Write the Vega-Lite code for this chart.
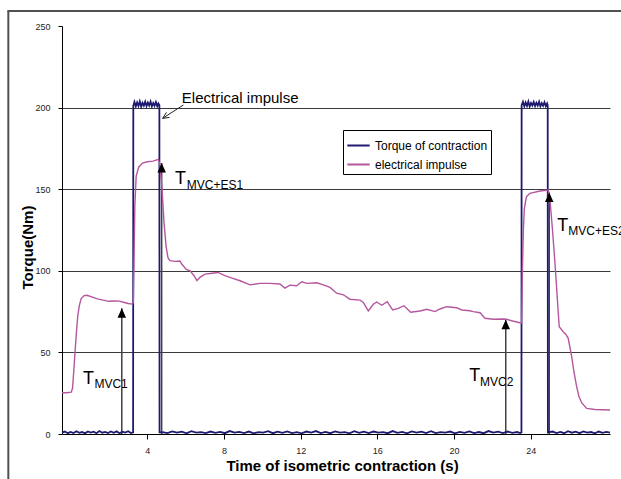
{
  "$schema": "https://vega.github.io/schema/vega-lite/v6.json",
  "width": 548,
  "height": 408,
  "autosize": {"type": "none"},
  "padding": {"left": 62, "top": 26, "right": 11, "bottom": 45},
  "background": "white",
  "config": {
    "view": {"stroke": null},
    "font": "Liberation Sans",
    "axis": {"labelFont": "Liberation Sans", "titleFont": "Liberation Sans"}
  },
  "datasets": {
    "torque": [
      {"t": -0.45, "v": 0.8}, {"t": -0.3, "v": 1.5}, {"t": -0.15, "v": 0.5}, {"t": 0, "v": 1.3}, {"t": 0.15, "v": 0.6}, {"t": 0.3, "v": 1.7}, {"t": 0.45, "v": 0.7}, {"t": 0.6, "v": 1.2}, {"t": 0.75, "v": 0.4}, {"t": 0.9, "v": 1.6}, {"t": 1.05, "v": 0.9}, {"t": 1.2, "v": 1.4}, {"t": 1.35, "v": 0.5}, {"t": 1.5, "v": 1.8}, {"t": 1.65, "v": 0.8}, {"t": 1.8, "v": 1.3}, {"t": 1.95, "v": 0.6}, {"t": 2.1, "v": 1.5}, {"t": 2.25, "v": 0.7}, {"t": 2.4, "v": 1.6}, {"t": 2.55, "v": 0.5}, {"t": 2.7, "v": 1.4}, {"t": 2.85, "v": 0.9}, {"t": 3.0, "v": 1.7}, {"t": 3.15, "v": 0.6}, {"t": 3.26, "v": 1.0},
      {"t": 3.27, "v": 201}, {"t": 3.33, "v": 203.5}, {"t": 3.4, "v": 200.8}, {"t": 3.47, "v": 203.2}, {"t": 3.54, "v": 201.0}, {"t": 3.61, "v": 203.8}, {"t": 3.68, "v": 200.6}, {"t": 3.75, "v": 202.9}, {"t": 3.82, "v": 201.2}, {"t": 3.89, "v": 203.6}, {"t": 3.96, "v": 200.9}, {"t": 4.03, "v": 203.1}, {"t": 4.1, "v": 201.3}, {"t": 4.17, "v": 203.7}, {"t": 4.24, "v": 200.7}, {"t": 4.31, "v": 202.8}, {"t": 4.38, "v": 201.1}, {"t": 4.45, "v": 203.4}, {"t": 4.52, "v": 200.9}, {"t": 4.58, "v": 202.5}, {"t": 4.63, "v": 201.5},
      {"t": 4.64, "v": 1.0}, {"t": 4.8, "v": 1.2}, {"t": 5.05, "v": 0.5}, {"t": 5.3, "v": 1.6}, {"t": 5.55, "v": 0.8}, {"t": 5.8, "v": 1.4}, {"t": 6.05, "v": 0.4}, {"t": 6.3, "v": 1.7}, {"t": 6.55, "v": 0.9}, {"t": 6.8, "v": 1.1}, {"t": 7.05, "v": 0.6}, {"t": 7.3, "v": 1.5}, {"t": 7.55, "v": 0.7}, {"t": 7.8, "v": 1.3}, {"t": 8.05, "v": 0.5}, {"t": 8.3, "v": 1.8}, {"t": 8.55, "v": 0.9}, {"t": 8.8, "v": 1.3}, {"t": 9.05, "v": 0.6}, {"t": 9.3, "v": 1.5}, {"t": 9.55, "v": 0.4}, {"t": 9.8, "v": 1.2}, {"t": 10.05, "v": 0.8}, {"t": 10.3, "v": 1.7}, {"t": 10.55, "v": 0.5}, {"t": 10.8, "v": 1.4}, {"t": 11.05, "v": 0.7}, {"t": 11.3, "v": 1.6}, {"t": 11.55, "v": 0.6}, {"t": 11.8, "v": 1.1}, {"t": 12.05, "v": 0.4}, {"t": 12.3, "v": 1.5}, {"t": 12.55, "v": 0.9}, {"t": 12.8, "v": 1.8}, {"t": 13.05, "v": 0.6}, {"t": 13.3, "v": 1.3}, {"t": 13.55, "v": 0.5}, {"t": 13.8, "v": 1.6}, {"t": 14.05, "v": 0.8}, {"t": 14.3, "v": 1.2}, {"t": 14.55, "v": 0.4}, {"t": 14.8, "v": 1.7}, {"t": 15.05, "v": 0.7}, {"t": 15.3, "v": 1.4}, {"t": 15.55, "v": 0.6}, {"t": 15.8, "v": 1.5}, {"t": 16.05, "v": 0.9}, {"t": 16.3, "v": 1.2}, {"t": 16.55, "v": 0.5}, {"t": 16.8, "v": 1.8}, {"t": 17.05, "v": 0.7}, {"t": 17.3, "v": 1.3}, {"t": 17.55, "v": 0.4}, {"t": 17.8, "v": 1.6}, {"t": 18.05, "v": 0.8}, {"t": 18.3, "v": 1.4}, {"t": 18.55, "v": 0.6}, {"t": 18.8, "v": 1.7}, {"t": 19.05, "v": 0.5}, {"t": 19.3, "v": 1.1}, {"t": 19.55, "v": 0.9}, {"t": 19.8, "v": 1.5}, {"t": 20.05, "v": 0.4}, {"t": 20.3, "v": 1.3}, {"t": 20.55, "v": 0.7}, {"t": 20.8, "v": 1.6}, {"t": 21.05, "v": 0.6}, {"t": 21.3, "v": 1.2}, {"t": 21.55, "v": 0.5}, {"t": 21.8, "v": 1.8}, {"t": 22.05, "v": 0.8}, {"t": 22.3, "v": 1.4}, {"t": 22.55, "v": 0.6}, {"t": 22.8, "v": 1.5}, {"t": 23.05, "v": 0.7}, {"t": 23.3, "v": 1.2}, {"t": 23.45, "v": 0.6}, {"t": 23.52, "v": 1.0},
      {"t": 23.53, "v": 201.5}, {"t": 23.6, "v": 203.6}, {"t": 23.67, "v": 200.8}, {"t": 23.74, "v": 203.2}, {"t": 23.81, "v": 201.0}, {"t": 23.88, "v": 203.7}, {"t": 23.95, "v": 200.7}, {"t": 24.02, "v": 202.9}, {"t": 24.09, "v": 201.3}, {"t": 24.16, "v": 203.5}, {"t": 24.23, "v": 200.9}, {"t": 24.3, "v": 203.0}, {"t": 24.37, "v": 201.2}, {"t": 24.44, "v": 203.6}, {"t": 24.51, "v": 200.8}, {"t": 24.58, "v": 202.7}, {"t": 24.65, "v": 201.1}, {"t": 24.72, "v": 203.3}, {"t": 24.79, "v": 200.9}, {"t": 24.86, "v": 202.6}, {"t": 24.89, "v": 201.5},
      {"t": 24.9, "v": 1.0}, {"t": 25.15, "v": 1.5}, {"t": 25.35, "v": 0.6}, {"t": 25.55, "v": 1.3}, {"t": 25.75, "v": 0.5}, {"t": 25.95, "v": 1.7}, {"t": 26.15, "v": 0.8}, {"t": 26.35, "v": 1.4}, {"t": 26.55, "v": 0.5}, {"t": 26.75, "v": 1.6}, {"t": 26.95, "v": 0.9}, {"t": 27.15, "v": 1.2}, {"t": 27.35, "v": 0.4}, {"t": 27.55, "v": 1.5}, {"t": 27.75, "v": 0.7}, {"t": 27.95, "v": 1.3}, {"t": 28.14, "v": 0.9}
    ],
    "impulse": [
      {"t": -0.45, "v": 25.3}, {"t": -0.2, "v": 25.3}, {"t": 0.03, "v": 25.6}, {"t": 0.1, "v": 28}, {"t": 0.16, "v": 38}, {"t": 0.23, "v": 50}, {"t": 0.3, "v": 62}, {"t": 0.37, "v": 72}, {"t": 0.45, "v": 78.5}, {"t": 0.55, "v": 83}, {"t": 0.7, "v": 84.8}, {"t": 0.85, "v": 85}, {"t": 1.1, "v": 84}, {"t": 1.4, "v": 82.8}, {"t": 1.7, "v": 82}, {"t": 2.0, "v": 81.3}, {"t": 2.3, "v": 81.5}, {"t": 2.55, "v": 81.4}, {"t": 2.8, "v": 80.6}, {"t": 3.0, "v": 80}, {"t": 3.2, "v": 79.6}, {"t": 3.27, "v": 80.5},
      {"t": 3.3, "v": 100}, {"t": 3.35, "v": 140}, {"t": 3.42, "v": 158}, {"t": 3.55, "v": 163.5}, {"t": 3.75, "v": 166}, {"t": 4.0, "v": 166.8}, {"t": 4.3, "v": 167.2}, {"t": 4.5, "v": 168}, {"t": 4.58, "v": 168.3},
      {"t": 4.66, "v": 165}, {"t": 4.77, "v": 150}, {"t": 4.87, "v": 130}, {"t": 4.98, "v": 115}, {"t": 5.08, "v": 108}, {"t": 5.18, "v": 106.2}, {"t": 5.45, "v": 105.8}, {"t": 5.7, "v": 106}, {"t": 5.81, "v": 104}, {"t": 6.02, "v": 101}, {"t": 6.23, "v": 100}, {"t": 6.44, "v": 97}, {"t": 6.59, "v": 94}, {"t": 6.75, "v": 96}, {"t": 7.01, "v": 98}, {"t": 7.38, "v": 98.5}, {"t": 7.69, "v": 99}, {"t": 8.05, "v": 97}, {"t": 8.42, "v": 95.5}, {"t": 8.84, "v": 93.9},
      {"t": 9.36, "v": 91.4}, {"t": 9.88, "v": 92.3}, {"t": 10.4, "v": 92.3}, {"t": 10.92, "v": 91.9}, {"t": 11.18, "v": 89.4}, {"t": 11.44, "v": 91.2}, {"t": 11.79, "v": 90.8}, {"t": 12.06, "v": 93.3}, {"t": 12.32, "v": 92.3}, {"t": 12.84, "v": 92.7}, {"t": 13.18, "v": 91.4}, {"t": 13.53, "v": 89.8}, {"t": 13.88, "v": 86.3}, {"t": 14.23, "v": 85.3}, {"t": 14.57, "v": 82.6}, {"t": 15.1, "v": 82}, {"t": 15.27, "v": 80.6}, {"t": 15.53, "v": 75.4}, {"t": 15.79, "v": 79.5}, {"t": 15.97, "v": 80.9}, {"t": 16.23, "v": 78.9}, {"t": 16.52, "v": 81.1}, {"t": 16.8, "v": 76}, {"t": 17.09, "v": 77}, {"t": 17.39, "v": 78.6}, {"t": 17.74, "v": 74.6}, {"t": 18.23, "v": 75.4}, {"t": 18.58, "v": 76.4}, {"t": 19.01, "v": 75}, {"t": 19.27, "v": 76.6}, {"t": 19.62, "v": 78}, {"t": 20.14, "v": 77.4}, {"t": 20.4, "v": 76}, {"t": 20.83, "v": 75.5}, {"t": 21.01, "v": 75}, {"t": 21.36, "v": 74.3}, {"t": 21.62, "v": 70.9}, {"t": 22.05, "v": 70.3}, {"t": 22.57, "v": 70.5}, {"t": 22.75, "v": 70.3}, {"t": 23.01, "v": 69.4}, {"t": 23.44, "v": 68.2}, {"t": 23.53, "v": 68},
      {"t": 23.57, "v": 100}, {"t": 23.62, "v": 125}, {"t": 23.67, "v": 138}, {"t": 23.78, "v": 145.4}, {"t": 23.96, "v": 147.5}, {"t": 24.49, "v": 148.9}, {"t": 24.92, "v": 149.5},
      {"t": 25.01, "v": 143.4}, {"t": 25.14, "v": 125}, {"t": 25.27, "v": 104.6}, {"t": 25.38, "v": 85}, {"t": 25.49, "v": 65.7}, {"t": 25.7, "v": 62.7}, {"t": 25.84, "v": 61}, {"t": 25.96, "v": 58.6}, {"t": 26.14, "v": 47.4}, {"t": 26.26, "v": 38}, {"t": 26.4, "v": 29}, {"t": 26.52, "v": 23}, {"t": 26.66, "v": 19.2}, {"t": 26.92, "v": 15.7}, {"t": 27.36, "v": 15}, {"t": 28.14, "v": 14.7}
    ],
    "arrows": [
      {"t": 2.67, "tip": 77},
      {"t": 4.75, "tip": 166},
      {"t": 22.7, "tip": 70},
      {"t": 24.97, "tip": 148}
    ],
    "pointer": [
      {"t0": 5.88, "v0": 201.6, "t1": 4.8, "v1": 193.4},
      {"t0": 5.16, "v0": 194.0, "t1": 4.8, "v1": 193.4},
      {"t0": 5.0, "v0": 197.1, "t1": 4.8, "v1": 193.4}
    ],
    "bigT": [
      {"t": 0.65, "v": 30.6, "txt": "T"},
      {"t": 5.45, "v": 153.2, "txt": "T"},
      {"t": 20.8, "v": 32.5, "txt": "T"},
      {"t": 25.39, "v": 124.6, "txt": "T"}
    ],
    "subs": [
      {"t": 1.24, "v": 28.2, "txt": "MVC1"},
      {"t": 6.06, "v": 149.9, "txt": "MVC+ES1"},
      {"t": 21.36, "v": 29.4, "txt": "MVC2"},
      {"t": 25.96, "v": 121.9, "txt": "MVC+ES2"}
    ],
    "note": [
      {"t": 5.8, "v": 205.6, "txt": "Electrical impulse"}
    ]
  },
  "layer": [
    {
      "data": {"values": [{}]},
      "mark": {"type": "rule", "stroke": "#505050", "strokeWidth": 2, "clip": false},
      "encoding": {
        "x": {"datum": -3.25, "type": "quantitative"},
        "y": {"datum": 259.2, "type": "quantitative"},
        "y2": {"datum": -30}
      }
    },
    {
      "data": {"values": [{}]},
      "mark": {"type": "rule", "stroke": "#505050", "strokeWidth": 2, "clip": false},
      "encoding": {
        "x": {"datum": -3.3, "type": "quantitative"},
        "x2": {"datum": 29},
        "y": {"datum": 259.2, "type": "quantitative"}
      }
    },
    {
      "encoding": {
        "x": {
          "field": "t", "type": "quantitative",
          "scale": {"domain": [-0.45, 28.14], "nice": false, "zero": false},
          "axis": {
            "values": [4, 8, 12, 16, 20, 24],
            "grid": false,
            "title": "Time of isometric contraction (s)",
            "titleFontSize": 15, "titleFontWeight": "bold", "titleColor": "black",
            "titleX": 280, "titleY": 24, "titleBaseline": "top", "titleAlign": "center",
            "labelFontSize": 9, "labelColor": "#222",
            "tickSize": 5, "tickColor": "black", "domainColor": "black", "labelPadding": 7
          }
        },
        "y": {
          "field": "v", "type": "quantitative",
          "scale": {"domain": [0, 250], "nice": false},
          "axis": {
            "values": [0, 50, 100, 150, 200, 250],
            "grid": true, "gridColor": "#3a3a3a", "gridWidth": 1,
            "gridOpacity": {"condition": {"test": "datum.value == 0 || datum.value == 250", "value": 0}, "value": 1},
            "title": "Torque(Nm)",
            "titleFontSize": 15, "titleFontWeight": "bold", "titleColor": "black",
            "titleX": -35, "titleY": 221, "titleAngle": -90, "titleBaseline": "middle", "titleAlign": "center",
            "labelFontSize": 9, "labelColor": "#222",
            "tickSize": 4, "tickColor": "black", "domainColor": "black", "labelPadding": 8
          }
        }
      },
      "layer": [
        {
          "data": {"name": "arrows"},
          "mark": {"type": "rule", "stroke": "#404040", "strokeWidth": 1.5},
          "encoding": {
            "y": {"field": "tip", "type": "quantitative"},
            "y2": {"datum": 0}
          }
        },
        {
          "data": {"name": "torque"},
          "mark": {"type": "line", "strokeWidth": 1.8},
          "encoding": {
            "color": {
              "datum": "Torque of contraction",
              "scale": {"domain": ["Torque of contraction", "electrical impulse"], "range": ["#1e1a70", "#b4579e"]},
              "legend": {
                "orient": "none", "legendX": 281, "legendY": 104,
                "title": null, "strokeColor": "black", "fillColor": "white",
                "padding": 3, "symbolType": "stroke", "symbolSize": 500, "symbolStrokeWidth": 2,
                "labelFontSize": 12, "labelColor": "black", "labelFont": "Liberation Sans",
                "labelOffset": 4, "rowPadding": 0
              }
            }
          }
        },
        {
          "data": {"name": "impulse"},
          "mark": {"type": "line", "strokeWidth": 1.4},
          "encoding": {
            "color": {"datum": "electrical impulse"}
          }
        },
        {
          "data": {"name": "arrows"},
          "mark": {"type": "point", "shape": "M0,0L0.85,1.9L-0.85,1.9Z", "size": 100, "filled": true, "fill": "black", "stroke": null, "opacity": 1},
          "encoding": {
            "y": {"field": "tip", "type": "quantitative"}
          }
        },
        {
          "data": {"name": "pointer"},
          "mark": {"type": "rule", "stroke": "#222", "strokeWidth": 1},
          "encoding": {
            "x": {"field": "t0", "type": "quantitative"},
            "x2": {"field": "t1"},
            "y": {"field": "v0", "type": "quantitative"},
            "y2": {"field": "v1"}
          }
        },
        {
          "data": {"name": "bigT"},
          "mark": {"type": "text", "fontSize": 18, "align": "left", "baseline": "alphabetic", "color": "black", "font": "Liberation Sans"},
          "encoding": {"text": {"field": "txt"}}
        },
        {
          "data": {"name": "subs"},
          "mark": {"type": "text", "fontSize": 12, "align": "left", "baseline": "alphabetic", "color": "black", "font": "Liberation Sans"},
          "encoding": {"text": {"field": "txt"}}
        },
        {
          "data": {"name": "note"},
          "mark": {"type": "text", "fontSize": 15, "align": "left", "baseline": "middle", "color": "black", "font": "Liberation Sans"},
          "encoding": {"text": {"field": "txt"}}
        }
      ]
    }
  ]
}
